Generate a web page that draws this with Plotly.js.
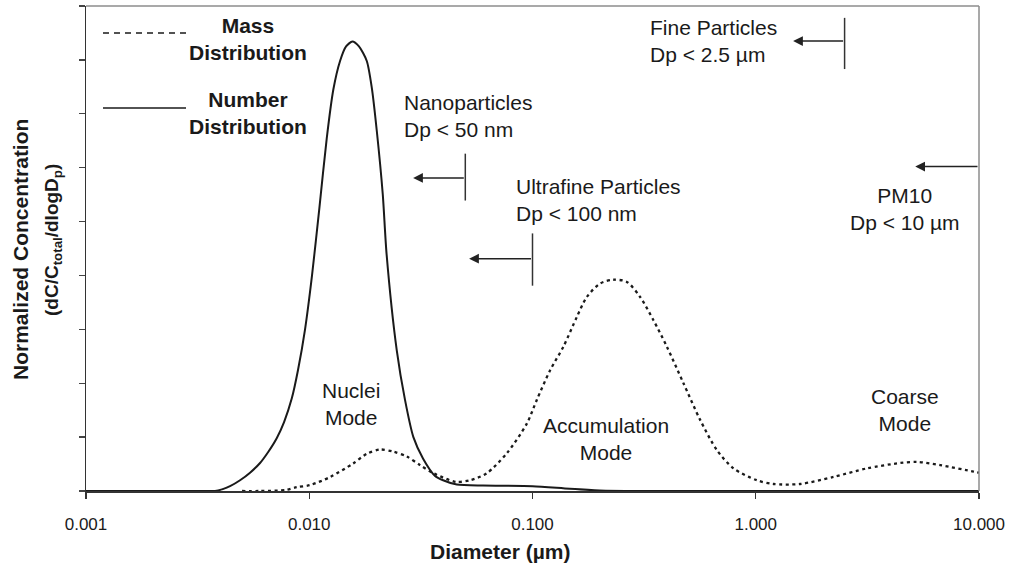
<!DOCTYPE html>
<html>
<head>
<meta charset="utf-8">
<script src="https://cdn.plot.ly/plotly-3.0.1.min.js"></script>
<style>html,body{margin:0;padding:0;background:#fff;}#chart{width:1011px;height:569px;}</style>
</head>
<body>
<div id="chart"></div>
<script>
// ---- Data ----
const numberDp = [0.001, 0.0035, 0.003784, 0.004067, 0.004418, 0.004898, 0.00543, 0.00602, 0.006537, 0.00715, 0.007713, 0.008354, 0.00891, 0.009576, 0.01029, 0.0111, 0.01198, 0.01282, 0.01374, 0.01462, 0.0156, 0.0167, 0.0181, 0.01905, 0.02006, 0.02135, 0.0222, 0.02466, 0.02685, 0.02927, 0.03236, 0.0366, 0.03977, 0.0458, 0.06, 0.1, 0.147, 0.2, 0.3, 1, 10];
const numberC  = [0, 0, 0, 0.03, 0.09, 0.2, 0.34, 0.52, 0.72, 0.98, 1.28, 1.72, 2.25, 3.0, 4.0, 5.25, 6.55, 7.45, 7.98, 8.25, 8.34, 8.25, 7.98, 7.49, 6.69, 5.5, 4.4, 2.61, 1.69, 1.0, 0.6, 0.28, 0.2, 0.12, 0.1, 0.09, 0.04, 0.01, 0, 0, 0];

const massDp = [0.005, 0.006, 0.0079, 0.00879, 0.01008, 0.0124, 0.01571, 0.0181, 0.02076, 0.02381, 0.02734, 0.03136, 0.03597, 0.04546, 0.05254, 0.06242, 0.07671, 0.0943, 0.1045, 0.1199, 0.1376, 0.158, 0.1751, 0.2009, 0.2305, 0.2646, 0.3035, 0.3481, 0.3997, 0.4745, 0.5636, 0.6694, 0.7945, 1.011, 1.2, 1.58, 2.229, 3.146, 4.436, 5.27, 6.70, 9.45, 10];
const massC  = [0, 0, 0.02, 0.07, 0.11, 0.26, 0.51, 0.69, 0.77, 0.73, 0.64, 0.48, 0.33, 0.17, 0.2, 0.33, 0.7, 1.25, 1.69, 2.24, 2.68, 3.23, 3.6, 3.85, 3.92, 3.88, 3.6, 3.17, 2.68, 2.0, 1.32, 0.76, 0.42, 0.2, 0.13, 0.13, 0.26, 0.42, 0.52, 0.54, 0.48, 0.36, 0.34];

const xTickVals = [0.001, 0.01, 0.1, 1, 10];
const xTickText = ['0.001', '0.010', '0.100', '1.000', '10.000'];

// size cut-offs (µm) and where their arrows point to
const cutNames  = ['Nanoparticles', 'Ultrafine', 'Fine', 'PM10'];
const cutDp     = [0.05, 0.1, 2.5, 10];
const arrowTo   = [0.0292, 0.052, 1.47, 5.18];
const arrowY    = [5.81, 4.31, 8.35, 6.02];
const barY0     = [5.39, 3.81, 7.83, null];
const barY1     = [6.26, 4.78, 8.78, null];

// ---- Layout helpers (pixel -> paper) ----
const L = 86, R = 32, T = 6, B = 78, W = 1011, H = 569;
const pw = W - L - R, ph = H - T - B;
const px = v => (v - L) / pw;
const py = v => (H - B - v) / ph;

const FONT = '"Liberation Sans", Arial, sans-serif';
const INK = '#1a1a1a';

const traces = [
  {x: numberDp, y: numberC, type: 'scatter', mode: 'lines', name: 'Number Distribution',
   line: {color: INK, width: 2, shape: 'spline', smoothing: 0.7}, hoverinfo: 'x+y'},
  {x: massDp, y: massC, type: 'scatter', mode: 'lines', name: 'Mass Distribution',
   line: {color: INK, width: 2.3, dash: '3px,3.5px', shape: 'spline', smoothing: 0.8}, hoverinfo: 'x+y'}
];

const shapes = [
  // top and right frame (grey)
  {type: 'line', xref: 'paper', yref: 'paper', x0: 0, x1: 1, y0: 1, y1: 1, line: {color: '#8c8c8c', width: 1.5}},
  {type: 'line', xref: 'paper', yref: 'paper', x0: 1, x1: 1, y0: 0, y1: 1, line: {color: '#8c8c8c', width: 1.5}},
  // legend samples
  {type: 'line', xref: 'paper', yref: 'paper', x0: px(103), x1: px(186), y0: py(33), y1: py(33), line: {color: INK, width: 1.5, dash: '6px,5px'}},
  {type: 'line', xref: 'paper', yref: 'paper', x0: px(103), x1: px(186), y0: py(108), y1: py(108), line: {color: INK, width: 1.5}}
];
cutDp.forEach((d, i) => {
  if (barY0[i] !== null) {
    shapes.push({type: 'line', xref: 'x', yref: 'y', x0: d, x1: d, y0: barY0[i], y1: barY1[i], line: {color: '#333', width: 1.5}});
  }
});

const txt = (text, x, y, opts) => Object.assign({
  text: text, xref: 'paper', yref: 'paper', x: px(x), y: py(y), showarrow: false,
  font: {family: FONT, size: 21, color: INK}, xanchor: 'center', yanchor: 'middle', align: 'center'
}, opts || {});

const annotations = [
  txt('<b>Mass<br>Distribution</b>', 248, 39),
  txt('<b>Number<br>Distribution</b>', 248, 113),
  txt('Nanoparticles<br>Dp < 50 nm', 402, 116, {xanchor: 'left', align: 'left'}),
  txt('Ultrafine Particles<br>Dp < 100 nm', 514, 200, {xanchor: 'left', align: 'left'}),
  txt('Fine Particles<br>Dp < 2.5 µm', 648, 41, {xanchor: 'left', align: 'left'}),
  txt('PM10<br>Dp < 10 µm', 905, 209),
  txt('Nuclei<br>Mode', 351, 404),
  txt('Accumulation<br>Mode', 606, 439),
  txt('Coarse<br>Mode', 905, 410),
  // axis titles
  txt('<b>Diameter (µm)</b>', 500, 551),
  txt('<b>Normalized Concentration</b>', 20, 250, {textangle: -90}),
  txt('<b>(dC/C<sub>total</sub>/dlogD<sub>p</sub>)</b>', 53, 240, {textangle: -90, font: {family: FONT, size: 19, color: INK}})
];
cutDp.forEach((d, i) => {
  annotations.push({
    xref: 'x', yref: 'y', axref: 'x', ayref: 'y',
    x: Math.log10(arrowTo[i]), y: arrowY[i], ax: Math.log10(d), ay: arrowY[i],
    text: '', showarrow: true, arrowhead: 2, arrowsize: 1.3, arrowwidth: 1.5, arrowcolor: '#222',
    standoff: 0, startstandoff: 0
  });
});

const layout = {
  width: W, height: H,
  margin: {l: L, r: R, t: T, b: B, pad: 0},
  paper_bgcolor: '#fff', plot_bgcolor: '#fff',
  showlegend: false,
  font: {family: FONT, color: INK},
  xaxis: {
    type: 'log', range: [-3, 1], tickvals: xTickVals, ticktext: xTickText,
    ticks: 'outside', ticklen: 6, tickwidth: 1.3, tickcolor: '#333',
    showline: true, linecolor: '#333', linewidth: 1.5,
    showgrid: false, zeroline: false, ticklabelstandoff: 11,
    tickfont: {family: FONT, size: 17, color: INK}
  },
  yaxis: {
    range: [0, 9], dtick: 1, tick0: 0,
    ticks: 'outside', ticklen: 6, tickwidth: 1.3, tickcolor: '#444',
    showline: true, linecolor: '#333', linewidth: 1.5,
    showgrid: false, zeroline: false, showticklabels: false
  },
  shapes: shapes,
  annotations: annotations
};

Plotly.newPlot('chart', traces, layout, {displayModeBar: false, staticPlot: true});
</script>
</body>
</html>
